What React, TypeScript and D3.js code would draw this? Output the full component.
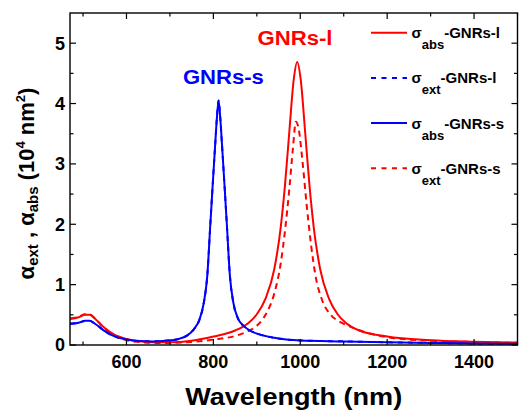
import React from "react";
import * as d3 from "d3";

// ---- data (wavelength nm, cross-section 10^4 nm^2) ----
const wlAbsL = [470,490,505,515,530,550,570,600,630,660,700,750,800,850,880,900,920,940,955,965,975,985,993,1001,1011,1021,1031,1046,1066,1086,1106,1136,1200,1300,1400,1500];
const absL = [0.43,0.46,0.50,0.50,0.42,0.28,0.18,0.10,0.06,0.045,0.045,0.07,0.14,0.24,0.36,0.51,0.77,1.25,1.95,2.66,3.55,4.40,4.69,4.40,3.55,2.66,1.95,1.25,0.77,0.51,0.36,0.24,0.14,0.08,0.055,0.04];

const wlExtRed = [470,490,505,515,530,550,570,600,630,660,700,750,800,850,880,900,920,940,955,965,975,983,990,997,1005,1015,1025,1035,1050,1070,1090,1110,1130,1160,1200,1300,1400,1500];
const extRed = [0.44,0.47,0.51,0.51,0.42,0.27,0.16,0.08,0.05,0.035,0.035,0.05,0.09,0.15,0.23,0.32,0.50,0.85,1.35,1.90,2.60,3.25,3.70,3.55,3.05,2.30,1.65,1.15,0.75,0.50,0.39,0.32,0.26,0.19,0.13,0.07,0.05,0.035];

const wlAbsS = [470,490,505,515,530,550,570,600,630,660,690,720,740,755,768,778,786,793,798,804,808,812,816,820,826,831,838,846,856,869,884,904,940,1000,1100,1200,1300,1400,1500];
const absS = [0.35,0.37,0.40,0.40,0.34,0.23,0.15,0.09,0.065,0.06,0.07,0.10,0.16,0.26,0.42,0.70,1.15,2.0,2.6,3.3,3.75,4.05,3.75,3.3,2.6,2.0,1.15,0.70,0.45,0.32,0.24,0.18,0.12,0.075,0.06,0.045,0.035,0.025,0.02];

// blue dashed series lies under the blue solid one
const wlExtBlue = wlAbsS;
const extBlue = [0.35,0.37,0.40,0.40,0.34,0.23,0.15,0.09,0.065,0.06,0.07,0.10,0.16,0.26,0.42,0.70,1.15,2.0,2.6,3.3,3.75,4.05,3.75,3.3,2.6,2.0,1.15,0.70,0.45,0.32,0.24,0.18,0.12,0.075,0.06,0.045,0.035,0.025,0.02];

const xMajorTicks = [600, 800, 1000, 1200, 1400];
const xMinorTicks = [500, 700, 900, 1100, 1300, 1500];
const yMajorTicks = [0, 1, 2, 3, 4, 5];
const yMinorTicks = [0.5, 1.5, 2.5, 3.5, 4.5];

const legendSubs = ["abs", "ext", "abs", "ext"];
const legendNames = ["-GNRs-l", "-GNRs-l", "-GNRs-s", "-GNRs-s"];
const legendColors = ["#ff0000", "#0000ff", "#0000ff", "#ff0000"];
const legendDashed = [false, true, false, true];

const FONT = "'Liberation Sans', Arial, Helvetica, sans-serif";

export default function App() {
  const W = 519, H = 412;
  const L = 70, R = 517.5, T = 13, B = 345;
  const x = d3.scaleLinear().domain([470, 1500]).range([L, R]);
  const y = d3.scaleLinear().domain([0, 5.5]).range([B, T]);
  const line = d3.line<[number, number]>()
    .x((d) => x(d[0]))
    .y((d) => y(d[1]))
    .curve(d3.curveMonotoneX);
  const zip = (a: number[], b: number[]) => a.map((v, i) => [v, b[i]] as [number, number]);

  const series = [
    { d: zip(wlExtBlue, extBlue), c: "#0000ff", dash: "5,5" },
    { d: zip(wlAbsL, absL), c: "#ff0000", dash: undefined },
    { d: zip(wlExtRed, extRed), c: "#ff0000", dash: "6,4.5" },
    { d: zip(wlAbsS, absS), c: "#0000ff", dash: undefined },
  ];

  const legendY0 = 32.7, legendDy = 45.2;

  return (
    <svg width={W} height={H} style={{ position: "absolute", left: 0, top: 0, background: "#fff" }} fontFamily={FONT}>
      <defs>
        <clipPath id="plotclip">
          <rect x={L} y={T} width={R - L} height={B - T} />
        </clipPath>
      </defs>
      <rect x={0} y={0} width={W} height={H} fill="#fff" />
      <g clipPath="url(#plotclip)">
        {series.map((s, i) => (
          <path key={i} d={line(s.d) || ""} fill="none" stroke={s.c} strokeWidth={2} strokeDasharray={s.dash} />
        ))}
      </g>
      {/* frame */}
      <rect x={L} y={T} width={R - L} height={B - T} fill="none" stroke="#000" strokeWidth={1.4} />
      {/* x ticks */}
      {xMajorTicks.map((t) => (
        <g key={"xM" + t}>
          <line x1={x(t)} x2={x(t)} y1={B} y2={B - 6} stroke="#000" strokeWidth={1.2} />
          <line x1={x(t)} x2={x(t)} y1={T} y2={T + 6} stroke="#000" strokeWidth={1.2} />
          <text x={x(t)} y={367.5} textAnchor="middle" fontSize={18} fontWeight="bold">{t}</text>
        </g>
      ))}
      {xMinorTicks.map((t) => (
        <g key={"xm" + t}>
          <line x1={x(t)} x2={x(t)} y1={B} y2={B - 3.5} stroke="#000" strokeWidth={1.2} />
          <line x1={x(t)} x2={x(t)} y1={T} y2={T + 3.5} stroke="#000" strokeWidth={1.2} />
        </g>
      ))}
      {/* y ticks */}
      {yMajorTicks.map((t) => (
        <g key={"yM" + t}>
          <line x1={L} x2={L + 6} y1={y(t)} y2={y(t)} stroke="#000" strokeWidth={1.2} />
          <line x1={R} x2={R - 6} y1={y(t)} y2={y(t)} stroke="#000" strokeWidth={1.2} />
          <text x={65} y={y(t)} dy="0.36em" textAnchor="end" fontSize={18} fontWeight="bold">{t}</text>
        </g>
      ))}
      {yMinorTicks.map((t) => (
        <g key={"ym" + t}>
          <line x1={L} x2={L + 3.5} y1={y(t)} y2={y(t)} stroke="#000" strokeWidth={1.2} />
          <line x1={R} x2={R - 3.5} y1={y(t)} y2={y(t)} stroke="#000" strokeWidth={1.2} />
        </g>
      ))}
      {/* axis titles */}
      <text x={293.7} y={405} textAnchor="middle" fontSize={24} fontWeight="bold" textLength={217} lengthAdjust="spacingAndGlyphs">Wavelength (nm)</text>
      <text transform="translate(34,183.5) rotate(-90)" textAnchor="middle" fontSize={22} fontWeight="bold">
        <tspan>α</tspan>
        <tspan fontSize={15} dy={4}>ext</tspan>
        <tspan dy={-4}> , α</tspan>
        <tspan fontSize={15} dy={4}>abs</tspan>
        <tspan dy={-4}> (10</tspan>
        <tspan fontSize={13} dy={-9}>4</tspan>
        <tspan dy={9}> nm</tspan>
        <tspan fontSize={13} dy={-9}>2</tspan>
        <tspan dy={9}>)</tspan>
      </text>
      {/* annotations */}
      <text x={223.4} y={83.5} textAnchor="middle" fontSize={20} fontWeight="bold" fill="#0000ff" textLength={81} lengthAdjust="spacingAndGlyphs">GNRs-s</text>
      <text x={295} y={45} textAnchor="middle" fontSize={19.5} fontWeight="bold" fill="#ff0000" textLength={75} lengthAdjust="spacingAndGlyphs">GNRs-l</text>
      {/* legend */}
      {legendNames.map((n, i) => {
        const ly = legendY0 + i * legendDy;
        return (
          <g key={"lg" + i}>
            <line x1={371} x2={407} y1={ly} y2={ly} stroke={legendColors[i]} strokeWidth={2} strokeDasharray={legendDashed[i] ? "5,5.5" : undefined} />
            <text x={411.5} y={ly + 5.5} fontSize={15} fontWeight="bold">
              <tspan>σ</tspan>
              <tspan fontSize={13} dy={11}>{legendSubs[i]}</tspan>
              <tspan dy={-11}>{n}</tspan>
            </text>
          </g>
        );
      })}
    </svg>
  );
}
